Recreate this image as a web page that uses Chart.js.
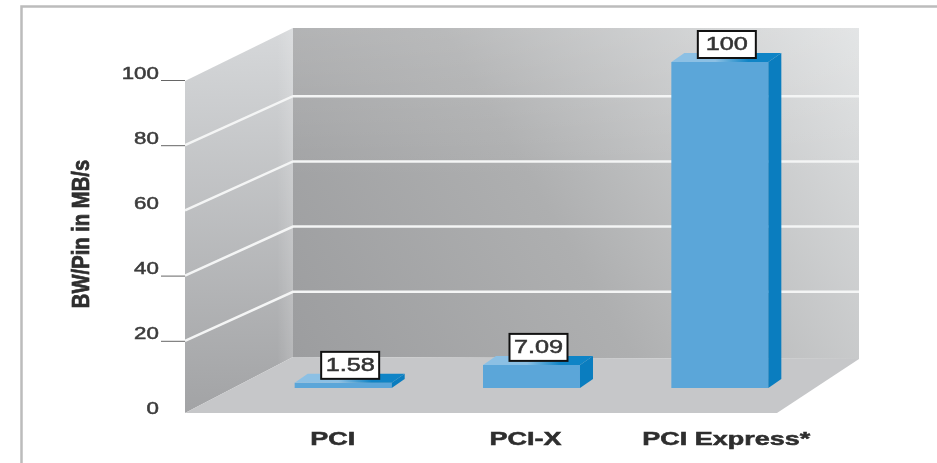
<!DOCTYPE html>
<html>
<head>
<meta charset="utf-8">
<title>BW/Pin</title>
<script src="https://cdn.jsdelivr.net/npm/chart.js@4"></script>
<style>
  html, body { margin: 0; padding: 0; background: #fff; }
  #chart-container { width: 937px; height: 463px; }
</style>
</head>
<body>
<div id="chart-container"><canvas id="myChart" width="937" height="463"></canvas></div>
<script>
const categories = ['PCI', 'PCI-X', 'PCI Express*'];
const bwPerPin = [1.58, 7.09, 100];
const axisTitle = 'BW/Pin in MB/s';
const markedTicks = [20, 40, 80, 100];

// the bars stand on a middle plane; walls and tick labels are offset from it
const FRONT_DY = 18;
const BACK_DY = -31;
const LABEL_FONT = '"Liberation Sans", Arial, sans-serif';

// text stretched wide, the way the axis labels are set
function wideText(ctx, text, x, y, font, color, sx, sy, rotated) {
    ctx.save();
    ctx.translate(x, y);
    if (rotated) ctx.rotate(-Math.PI / 2);
    ctx.scale(sx, sy || 1);
    ctx.font = font;
    ctx.fillStyle = color;
    ctx.strokeStyle = color;
    ctx.lineWidth = 0.5;
    ctx.textAlign = 'center';
    ctx.textBaseline = 'middle';
    ctx.fillText(text, 0, 0);
    ctx.strokeText(text, 0, 0);
    ctx.restore();
}

function poly(ctx, pts, fill) {
    ctx.beginPath();
    pts.forEach((p, i) => i ? ctx.lineTo(p[0], p[1]) : ctx.moveTo(p[0], p[1]));
    ctx.closePath();
    ctx.fillStyle = fill;
    ctx.fill();
}

// frame, floor, back wall, side wall and the white gridlines
const roomPlugin = {
    id: 'room',
    beforeDatasetsDraw(chart) {
        const ctx = chart.ctx;
        const y = chart.scales.y;
        const wallL = 185, wallB = 293, wallR = 859, floorR = 777;
        const top = y.getPixelForValue(100);
        const zero = y.getPixelForValue(0);
        const backTop = top + BACK_DY - 3, backBot = zero + BACK_DY;
        const frontTop = top + FRONT_DY + 1, frontBot = zero + FRONT_DY + 7;

        ctx.save();
        ctx.strokeStyle = '#bcbcbc';
        ctx.lineWidth = 2.5;
        ctx.beginPath();
        ctx.moveTo(21.5, 463);
        ctx.lineTo(21.5, 6.5);
        ctx.lineTo(937, 6.5);
        ctx.stroke();

        let g = ctx.createLinearGradient(wallB, backBot, wallR, backTop);
        g.addColorStop(0, '#9c9d9f');
        g.addColorStop(0.45, '#aeafb0');
        g.addColorStop(1, '#dfe1e2');
        poly(ctx, [[wallB, backTop], [wallR, backTop], [wallR, backBot + 2], [wallB, backBot]], g);

        // the back wall lightens a little towards its top edge
        g = ctx.createLinearGradient(0, backTop, 0, backTop + 150);
        g.addColorStop(0, 'rgba(255,255,255,0.14)');
        g.addColorStop(1, 'rgba(255,255,255,0)');
        poly(ctx, [[wallB, backTop], [wallR, backTop], [wallR, backTop + 150], [wallB, backTop + 150]], g);

        g = ctx.createLinearGradient(0, backTop, 0, frontBot);
        g.addColorStop(0, '#d6d8da');
        g.addColorStop(1, '#a2a3a5');
        poly(ctx, [[wallL, frontTop], [wallB, backTop], [wallB, backBot], [wallL, frontBot]], g);

        g = ctx.createLinearGradient(wallB - 16, 0, wallB, 0);
        g.addColorStop(0, 'rgba(255,255,255,0)');
        g.addColorStop(1, 'rgba(255,255,255,0.16)');
        poly(ctx, [[wallB - 16, backTop + 8], [wallB, backTop], [wallB, backBot], [wallB - 16, backBot + 8]], g);

        poly(ctx, [[wallL, frontBot], [wallB, backBot], [wallR, backBot + 2], [floorR, frontBot]], '#c6c7c9');

        ctx.strokeStyle = '#f4f5f5';
        ctx.lineWidth = 2.5;
        y.ticks.forEach(t => {
            if (t.value === 0 || t.value === 100) return;
            const py = y.getPixelForValue(t.value);
            ctx.beginPath();
            ctx.moveTo(wallL, py + FRONT_DY);
            ctx.lineTo(wallB, py + BACK_DY);
            ctx.lineTo(wallR, py + BACK_DY);
            ctx.stroke();
        });
        ctx.restore();
    }
};

// side and top of each bar, value boxes, and all the axis text
const labelsPlugin = {
    id: 'labels',
    afterDatasetsDraw(chart) {
        const ctx = chart.ctx;
        const y = chart.scales.y;
        const depthX = 13, depthY = 9;
        const bars = chart.getDatasetMeta(0).data;

        bars.forEach(bar => {
            const l = bar.x - bar.width / 2, r = bar.x + bar.width / 2;
            poly(ctx, [[r, bar.y], [r + depthX, bar.y - depthY], [r + depthX, bar.base - depthY], [r, bar.base]], '#0a7dbf');
            // top face runs from pale at the left to the side colour at the right
            const g = ctx.createLinearGradient(l, 0, r + depthX, 0);
            g.addColorStop(0, '#8cc0e4');
            g.addColorStop(0.4, '#8cc0e4');
            g.addColorStop(0.7, '#0f84c6');
            g.addColorStop(1, '#0f84c6');
            poly(ctx, [[l, bar.y], [l + depthX, bar.y - depthY], [r + depthX, bar.y - depthY], [r, bar.y]], g);
        });

        bars.forEach((bar, i) => {
            const w = 58, h = 27;
            const cx = bar.x + 7, bottom = bar.y - 4;
            ctx.fillStyle = '#fff';
            ctx.fillRect(cx - w / 2, bottom - h, w, h);
            ctx.strokeStyle = '#111';
            ctx.lineWidth = 2;
            ctx.strokeRect(cx - w / 2, bottom - h, w, h);
            wideText(ctx, String(bwPerPin[i]), cx, bottom - h / 2 + 1, '18px ' + LABEL_FONT, '#333', 1.4);
        });

        // y labels and tick marks follow the front edge of the side wall
        y.ticks.forEach(t => {
            const py = y.getPixelForValue(t.value) + FRONT_DY;
            if (markedTicks.includes(t.value)) {
                ctx.strokeStyle = '#666';
                ctx.lineWidth = 1;
                ctx.beginPath();
                ctx.moveTo(161, py + 0.5);
                ctx.lineTo(185, py + 0.5);
                ctx.stroke();
            }
            const text = String(t.value);
            const cx = 159 - text.length * 6.25;
            wideText(ctx, text, cx, py - 6 + (t.value === 0 ? 9 : 0), '16.5px ' + LABEL_FONT, '#3c3c3c', 1.35);
        });

        const shift = [-10.5, -6, 6.5];
        chart.scales.x.ticks.forEach((t, i) => {
            const px = chart.scales.x.getPixelForTick(i);
            wideText(ctx, t.label, px + shift[i], 440, 'bold 18px ' + LABEL_FONT, '#2e2e2e', 1.5);
        });

        wideText(ctx, axisTitle, 82, 234, 'bold 17px ' + LABEL_FONT, '#2e2e2e', 1.19, 1.4, true);
    }
};

const ctx = document.getElementById('myChart').getContext('2d');
new Chart(ctx, {
    type: 'bar',
    data: {
        labels: categories,
        datasets: [{
            label: axisTitle,
            data: bwPerPin,
            backgroundColor: '#5ba6d9',
            borderWidth: 0,
            categoryPercentage: 1,
            barPercentage: 0.515
        }]
    },
    options: {
        responsive: false,
        animation: false,
        layout: { padding: { left: 249, right: 123, top: 62, bottom: 75 } },
        plugins: { legend: { display: false }, tooltip: { enabled: false } },
        scales: {
            x: { display: false },
            y: { display: false, min: 0, max: 100, ticks: { stepSize: 20 } }
        }
    },
    plugins: [roomPlugin, labelsPlugin]
});
</script>
</body>
</html>
